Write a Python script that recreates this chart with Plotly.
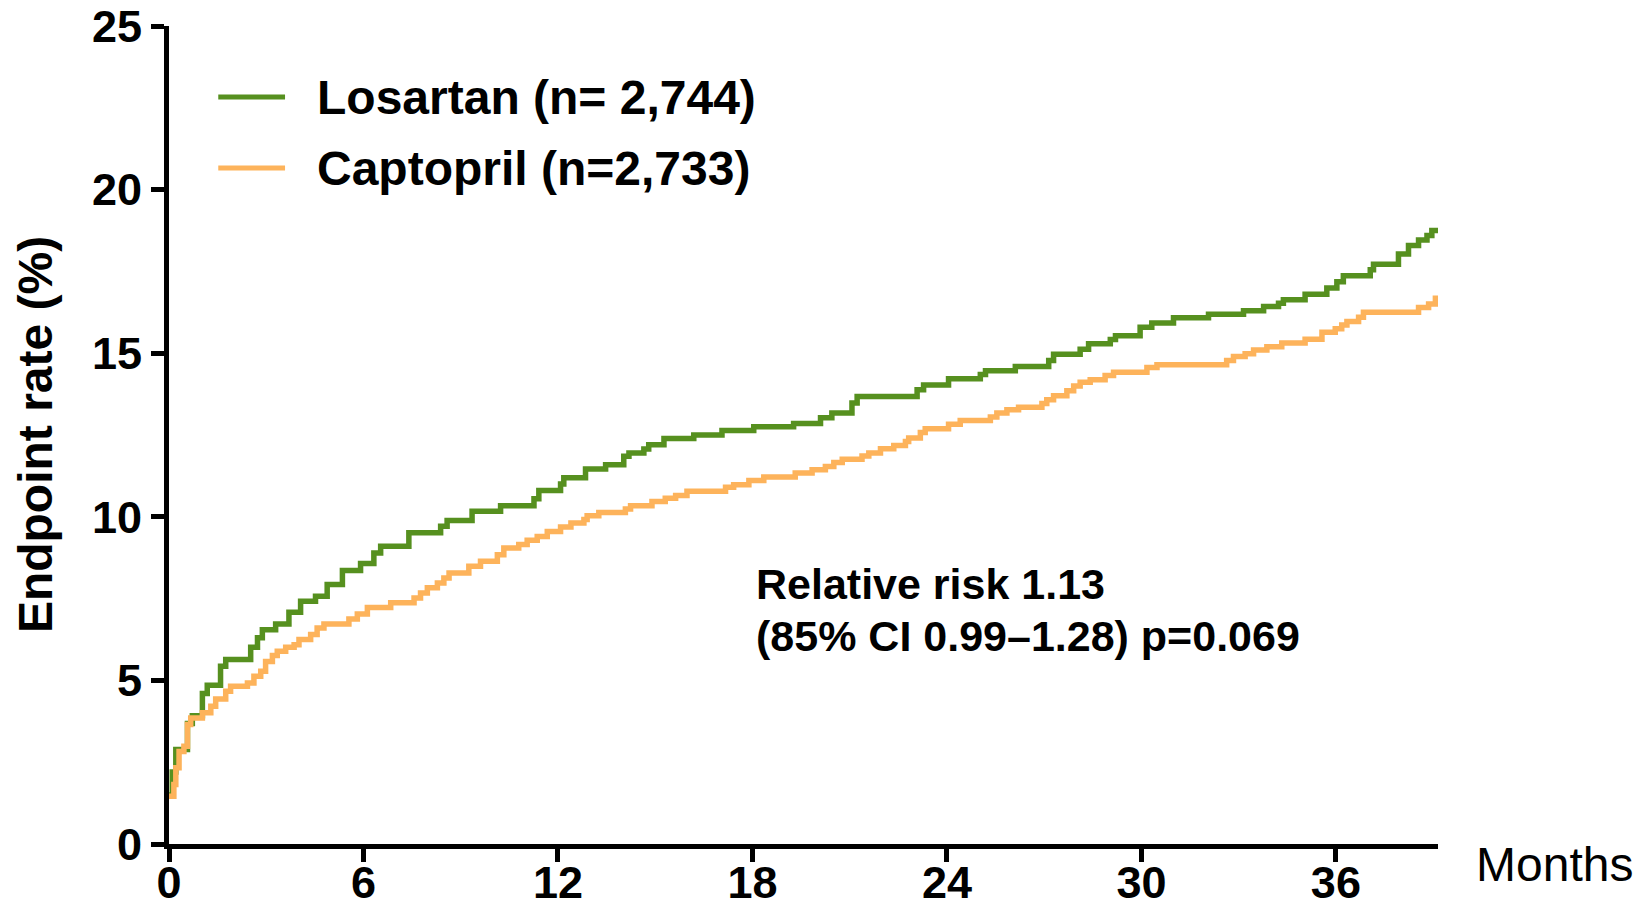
import plotly.graph_objects as go

# ---- data ----
losartan_t = [0.0, 0.1, 0.21, 0.57, 0.72, 1.03, 1.18, 1.59, 1.75, 2.52, 2.73, 2.88, 3.29, 3.70,
              4.06, 4.52, 4.88, 5.35, 5.91, 6.32, 6.53, 7.40, 8.38, 8.58, 9.35, 10.23, 11.26,
              11.41, 12.08, 12.18, 12.85, 13.47, 14.03, 14.19, 14.65, 14.80, 15.27, 16.19,
              17.06, 18.04, 19.27, 20.10, 20.45, 21.07, 21.23, 23.08, 23.28, 24.05, 25.03,
              25.19, 26.11, 27.14, 27.29, 28.11, 28.37, 29.04, 29.20, 29.96, 30.32, 30.99,
              32.07, 33.15, 33.77, 34.23, 34.38, 35.05, 35.72, 36.03, 36.23, 37.06, 37.16,
              37.93, 38.24, 38.55, 38.81, 38.96, 39.15]
losartan_v = [1.5, 2.2, 2.89, 3.68, 3.92, 4.6, 4.85, 5.43, 5.64, 6.01, 6.30, 6.55, 6.72, 7.08,
              7.42, 7.57, 7.93, 8.36, 8.57, 8.89, 9.10, 9.51, 9.71, 9.89, 10.17, 10.34, 10.55,
              10.80, 11.0, 11.19, 11.46, 11.59, 11.85, 11.95, 12.07, 12.20, 12.39, 12.50,
              12.64, 12.75, 12.85, 13.03, 13.17, 13.48, 13.68, 13.88, 14.03, 14.22, 14.35,
              14.46, 14.59, 14.78, 14.97, 15.12, 15.29, 15.42, 15.53, 15.79, 15.92, 16.08,
              16.19, 16.30, 16.43, 16.53, 16.63, 16.80, 16.99, 17.18, 17.37, 17.55, 17.72,
              18.03, 18.29, 18.46, 18.60, 18.75, 18.75]

captopril_t = [0.0, 0.15, 0.21, 0.31, 0.46, 0.57, 0.67, 1.03, 1.29, 1.44, 1.75, 1.90, 2.42, 2.62,
               2.83, 2.98, 3.19, 3.34, 3.60, 3.86, 4.01, 4.37, 4.57, 4.78, 5.55, 5.81, 6.12,
               6.84, 7.56, 7.76, 7.97, 8.28, 8.48, 8.64, 9.25, 9.61, 10.13, 10.33, 10.79, 11.05,
               11.36, 11.67, 12.08, 12.40, 12.80, 12.90, 13.26, 14.08, 14.24, 14.90, 15.31,
               15.63, 15.98, 17.17, 17.42, 17.89, 18.35, 19.32, 19.84, 20.25, 20.51, 20.77,
               21.38, 21.59, 21.95, 22.36, 22.72, 22.82, 23.18, 23.33, 24.05, 24.41, 25.34,
               25.54, 25.85, 26.21, 26.93, 27.08, 27.29, 27.70, 27.91, 28.11, 28.42, 28.88,
               29.14, 30.17, 30.48, 32.63, 32.84, 33.20, 33.46, 33.87, 34.33, 35.05, 35.57,
               35.98, 36.18, 36.34, 36.70, 36.85, 38.55, 38.86, 39.07, 39.15]
captopril_v = [1.46, 1.82, 2.33, 2.83, 2.99, 3.65, 3.85, 4.01, 4.21, 4.43, 4.67, 4.82, 4.92, 5.13,
               5.28, 5.58, 5.76, 5.89, 6.01, 6.09, 6.25, 6.40, 6.60, 6.72, 6.88, 7.03, 7.23,
               7.37, 7.52, 7.67, 7.83, 7.98, 8.13, 8.28, 8.49, 8.64, 8.84, 9.05, 9.15, 9.28,
               9.40, 9.55, 9.69, 9.81, 9.92, 10.03, 10.13, 10.24, 10.34, 10.47, 10.57,
               10.65, 10.78, 10.90, 10.98, 11.11, 11.22, 11.34, 11.44, 11.54, 11.66, 11.76,
               11.86, 11.95, 12.08, 12.18, 12.30, 12.41, 12.58, 12.69, 12.83, 12.94, 13.05,
               13.17, 13.27, 13.35, 13.46, 13.58, 13.70, 13.85, 14.00, 14.11, 14.19, 14.32,
               14.42, 14.56, 14.65, 14.78, 14.90, 14.98, 15.10, 15.20, 15.31, 15.43, 15.64,
               15.75, 15.86, 15.97, 16.10, 16.25, 16.40, 16.50, 16.68, 16.68]

series_names = ["Losartan (n= 2,744)", "Captopril (n=2,733)"]
x_ticks = [0, 6, 12, 18, 24, 30, 36]
y_ticks = [0, 5, 10, 15, 20, 25]
annot_lines = ["Relative risk 1.13", "(85% CI 0.99\u20131.28) p=0.069"]

GREEN = "#56901F"
ORANGE = "#FDB35B"
FONT = "Liberation Sans, Arial, sans-serif"

fig = go.Figure()
fig.add_trace(go.Scatter(x=losartan_t, y=losartan_v, mode="lines", line_shape="hv",
                         line=dict(color=GREEN, width=5.5), name=series_names[0]))
fig.add_trace(go.Scatter(x=captopril_t, y=captopril_v, mode="lines", line_shape="hv",
                         line=dict(color=ORANGE, width=5.5), name=series_names[1]))

axis_common = dict(showgrid=False, zeroline=False, showline=True, linecolor="black",
                   linewidth=5, ticks="outside", ticklen=13, tickwidth=5, tickcolor="black",
                   automargin=False, ticklabeloverflow="allow",
                   tickfont=dict(family=FONT, size=45, color="black", weight="bold"))
fig.update_xaxes(range=[0, 39.15], tickvals=x_ticks, ticklabelstandoff=-18, **axis_common)
fig.update_yaxes(range=[0, 25], tickvals=y_ticks, **axis_common)

# manual legend
legend_y = [22.83, 20.66]
colors = [GREEN, ORANGE]
for name, yy, col in zip(series_names, legend_y, colors):
    fig.add_shape(type="line", xref="x", yref="y", x0=1.52, x1=3.58, y0=yy, y1=yy,
                  line=dict(color=col, width=5))
    fig.add_annotation(x=4.5, y=yy, xref="x", yref="y", text=name, showarrow=False,
                       xanchor="left", yanchor="middle",
                       font=dict(family=FONT, size=48, color="black", weight="bold"))

for txt, yy in zip(annot_lines, [7.96, 6.37]):
    fig.add_annotation(x=18.06, y=yy, xref="x", yref="y", text=txt, showarrow=False,
                       xanchor="left", yanchor="middle",
                       font=dict(family=FONT, size=43, color="black", weight="bold"))

fig.add_annotation(x=1.028, y=-0.025, xref="paper", yref="paper", text="Months",
                   showarrow=False, xanchor="left", yanchor="middle",
                   font=dict(family=FONT, size=48, color="black"))
fig.add_annotation(x=-0.1055, y=0.5, xref="paper", yref="paper", text="Endpoint rate (%)",
                   textangle=-90, showarrow=False, xanchor="center", yanchor="middle",
                   font=dict(family=FONT, size=48, color="black", weight="bold"))

fig.update_layout(width=1649, height=912, showlegend=False,
                  margin=dict(l=169, r=211, t=26, b=68),
                  plot_bgcolor="white", paper_bgcolor="white")

fig.write_html("out.html")
